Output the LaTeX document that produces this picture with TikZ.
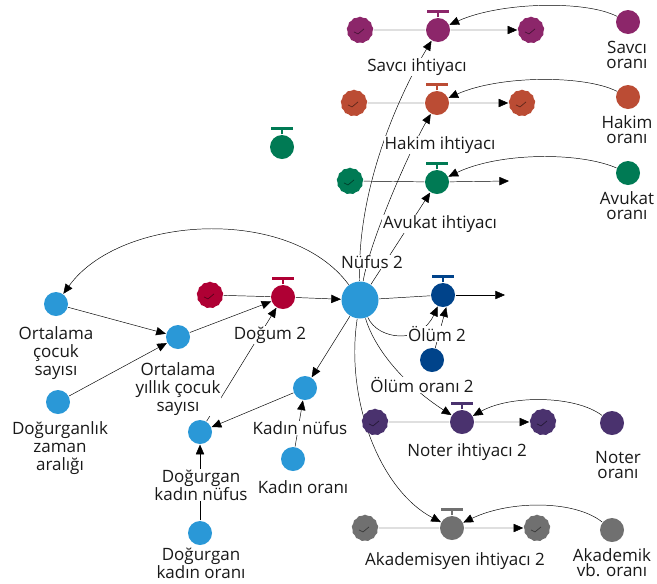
\documentclass[tikz,border=0pt]{standalone}
\usepackage{fontspec}
\setmainfont{Open Sans}
\usetikzlibrary{arrows.meta,shapes.symbols,positioning,backgrounds}
\definecolor{savci}{RGB}{140,38,106}
\definecolor{hakim}{RGB}{187,76,52}
\definecolor{avukat}{RGB}{0,122,84}
\definecolor{dogum}{RGB}{175,0,52}
\definecolor{nufus}{RGB}{42,152,215}
\definecolor{olum}{RGB}{0,67,138}
\definecolor{noter}{RGB}{74,50,110}
\definecolor{akad}{RGB}{112,112,112}
\tikzset{
	lbl/.style={font=\fontsize{14.5}{15.5}\selectfont, align=center, fill=white, inner sep=0.5pt, text=black!90},
	tight/.style={lbl, font=\fontsize{14.5}{13}\selectfont},
	aux/.style={circle, fill=#1, minimum size=0.72cm, inner sep=0},
	level/.style={circle, fill=#1, minimum size=1.11cm, inner sep=0},
	valve/.style={circle, fill=#1, minimum size=0.72cm, inner sep=0},
	source/.style={cloud, cloud puffs=13, cloud puff arc=85, aspect=1, fill=#1, minimum width=0.8cm, minimum height=0.8cm, inner sep=0,
		path picture={\draw[black!50!#1, line width=0.6pt] ([shift={(-6,2)}]path picture bounding box.center) -- ++(4,2) -- ++(6,-5);}},
}

\begin{document}
\begin{tikzpicture}[x=0.03cm, y=-0.03cm, >={Triangle[length=2.9mm,width=2.5mm]}, line width=1pt]
\useasboundingbox (0,0) rectangle (657,583);
% Savci
\node[source=savci] (savciK) at (360,30) {};
\node[valve=savci] (savciV) at (438,30) {};
\node[source=savci] (savciC) at (531,30) {};
\node[aux=savci] (savciO) at (628,22) {};
\node[tight] (savciOL) at (627,55) {Savcı\\oranı};
\node[lbl] (savciL) at (417,67) {Savcı ihtiyacı};
% Hakim
\node[source=hakim] (hakimK) at (354,103) {};
\node[valve=hakim] (hakimV) at (437,103) {};
\node[source=hakim] (hakimC) at (522,103) {};
\node[aux=hakim] (hakimO) at (628,97) {};
\node[tight] (hakimOL) at (627,130) {Hakim\\oranı};
\node[lbl] (hakimL) at (440,145) {Hakim ihtiyacı};
% Avukat
\node[valve=avukat] (bosV) at (282,147) {};
\node[source=avukat] (avukatK) at (350,181) {};
\node[valve=avukat] (avukatV) at (437,182) {};
\coordinate (avukatE) at (509,181);
\node[aux=avukat] (avukatO) at (628,173) {};
\node[tight] (avukatOL) at (627,206) {Avukat\\oranı};
\node[lbl] (avukatL) at (440,224) {Avukat ihtiyacı};
% Nufus
\node[source=dogum] (dogumK) at (210,295) {};
\node[valve=dogum] (dogumV) at (283,297) {};
\node[level=nufus] (nufus) at (360,300) {};
\node[valve=olum] (olumV) at (443,295) {};
\coordinate (olumE) at (505,295);
\node[lbl] (nufusL) at (372,262) {Nüfus 2};
\node[lbl] (dogumL) at (270,335) {Doğum 2};
\node[lbl] (olumL) at (437,334) {Ölüm 2};
\node[aux=olum] (oo2) at (432,360) {};
\node[lbl] (oo2L) at (422,385) {Ölüm oranı 2};
% sol taraf
\node[aux=nufus] (ocs) at (56,304) {};
\node[lbl] (ocsL) at (56,353) {Ortalama\\çocuk\\sayısı};
\node[aux=nufus] (oycs) at (178,337) {};
\node[lbl] (oycsL) at (178,389) {Ortalama\\yıllık çocuk\\sayısı};
\node[aux=nufus] (dza) at (58,402) {};
\node[lbl] (dzaL) at (60,448) {Doğurganlık\\zaman\\aralığı};
\node[aux=nufus] (dkn) at (200,432) {};
\node[lbl] (dknL) at (201,485) {Doğurgan\\kadın nüfus};
\node[aux=nufus] (dko) at (200,533) {};
\node[tight] (dkoL) at (201,563) {Doğurgan\\kadın oranı};
\node[aux=nufus] (kn) at (305,388) {};
\node[lbl] (knL) at (300,428) {Kadın nüfus};
\node[aux=nufus] (ko) at (293,459) {};
\node[lbl] (koL) at (303,487) {Kadın oranı};
% Noter
\node[source=noter] (noterK) at (375,422) {};
\node[valve=noter] (noterV) at (462,422) {};
\node[source=noter] (noterC) at (543,422) {};
\node[aux=noter] (noterO) at (612,423) {};
\node[tight] (noterOL) at (618,465) {Noter\\oranı};
\node[lbl] (noterL) at (467,452) {Noter ihtiyacı 2};
% Akademisyen
\node[source=akad] (akadK) at (365,528) {};
\node[valve=akad] (akadV) at (452,528) {};
\node[source=akad] (akadC) at (537,528) {};
\node[aux=akad] (akadO) at (612,530) {};
\node[tight] (akadOL) at (612,563) {Akademik\\vb. oranı};
\node[lbl] (akadL) at (455,561) {Akademisyen ihtiyacı 2};
% vana kollari
\foreach \v/\c in {savciV/savci, hakimV/hakim, avukatV/avukat, bosV/avukat, dogumV/dogum, olumV/olum, noterV/noter, akadV/akad}{
	\draw[\c, line width=1.5pt] (\v.north) -- ++(0,-6);
	\draw[\c, line width=2.3pt] ([yshift=0.18cm]\v.north) ++(-11,0) -- ++(22,0);
}
\begin{scope}[on background layer]
	% akislar
	\draw (savciK) -- (savciV);
	\draw[->] (savciV) -- (savciC);
	\draw (hakimK) -- (hakimV);
	\draw[->] (hakimV) -- (hakimC);
	\draw (avukatK) -- (avukatV);
	\draw[->] (avukatV) -- (avukatE);
	\draw (dogumK) -- (dogumV);
	\draw[->] (dogumV) -- (nufus);
	\draw (nufus) -- (olumV);
	\draw[->] (olumV) -- (olumE);
	\draw (noterK) -- (noterV);
	\draw[->] (noterV) -- (noterC);
	\draw (akadK) -- (akadV);
	\draw[->] (akadV) -- (akadC);
	% oranlar
	\draw[->] (savciO) .. controls (585,0) and (500,2) .. (savciV);
	\draw[->] (hakimO) .. controls (585,75) and (500,75) .. (hakimV);
	\draw[->] (avukatO) .. controls (580,152) and (500,152) .. (avukatV);
	\draw[->] (noterO) .. controls (575,395) and (510,395) .. (noterV);
	\draw[->] (akadO) .. controls (575,500) and (510,500) .. (akadV);
	% nufus baglantilari
	\draw[->] (nufus) .. controls (357,180) and (405,85) .. (savciV);
	\draw[->] (nufus) .. controls (370,240) and (410,150) .. (hakimV);
	\draw[->] (nufus.55) -- (avukatV);
	\draw[->] (nufus) .. controls (290,205) and (120,215) .. (ocs);
	\draw[->] (nufus) .. controls (378,340) and (420,345) .. (olumV);
	\draw[->] (oo2) -- (olumV.-75);
	\draw[->] (nufus) .. controls (375,350) and (405,385) .. (noterV);
	\draw[->] (nufus) .. controls (345,400) and (380,490) .. (akadV);
	\draw[->] (nufus) -- (kn);
	% dogum tarafi
	\draw[->] (ocs) -- (oycs);
	\draw[->] (dza) -- (oycs);
	\draw[->] (oycs) -- (dogumV);
	\draw[->] (dkn) -- (dogumV);
	\draw[->] (kn) -- (dkn);
	\draw[->] (ko) -- (kn);
	\draw[->] (dko) -- (dkn);
\end{scope}
\end{tikzpicture}
\end{document}
